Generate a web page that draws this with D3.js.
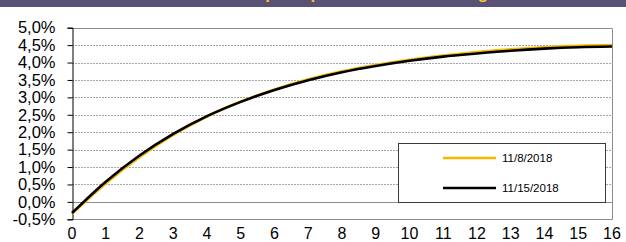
<!DOCTYPE html>
<html>
<head>
<meta charset="utf-8">
<script src="https://cdn.jsdelivr.net/npm/d3@7"></script>
<style>
  html, body { margin: 0; padding: 0; background: #fff; }
  svg { display: block; font-family: "Liberation Sans", Arial, sans-serif; }
</style>
</head>
<body>
<svg id="chart" width="626" height="242"></svg>
<script>
// Maturities (years) along the x axis.
const maturities = [0, 1, 2, 3, 4, 5, 6, 7, 8, 9, 10, 11, 12, 13, 14, 15, 16];
// Rates in percent.
const rates_2018_11_08 = [-0.34, 0.53, 1.28, 1.92, 2.45, 2.88, 3.23, 3.52, 3.75, 3.93, 4.08, 4.20, 4.30, 4.38, 4.44, 4.48, 4.50];
const rates_2018_11_15 = [-0.32, 0.58, 1.33, 1.95, 2.46, 2.87, 3.21, 3.49, 3.72, 3.90, 4.05, 4.17, 4.26, 4.34, 4.40, 4.44, 4.46];
const seriesNames = ['11/8/2018', '11/15/2018'];
const seriesColors = ['#f5b800', '#000000'];
const yTicks = [-0.5, 0, 0.5, 1, 1.5, 2, 2.5, 3, 3.5, 4, 4.5, 5];
const xTicks = [0, 1, 2, 3, 4, 5, 6, 7, 8, 9, 10, 11, 12, 13, 14, 15, 16];
const titleText = 'Zero-coupon spot rate curve - change';

const svg = d3.select('#chart');
const width = 626;

// Plot area bounds.
const plotLeft = 72, plotRight = 612, plotTop = 27.7, plotBottom = 219.3;

const x = d3.scaleLinear().domain([0, 16]).range([plotLeft, plotRight]);
const y = d3.scaleLinear().domain([-0.5, 5]).range([plotBottom, plotTop]);

// Title band across the top: the picture is cropped, so only the
// descenders of the title peek out of the band.
svg.append('rect')
    .attr('x', 0).attr('y', 0)
    .attr('width', width).attr('height', 7)
    .attr('fill', '#5a5276');
svg.append('text')
    .attr('x', 345).attr('y', -1)
    .attr('text-anchor', 'middle')
    .attr('fill', '#f7c52b')
    .style('font-size', '17px')
    .style('font-weight', 'bold')
    .text(titleText);

// Horizontal gridlines (dotted), with the zero line and top line solid.
svg.append('g')
    .selectAll('line')
    .data(yTicks.filter(d => d !== -0.5))
    .join('line')
    .attr('x1', plotLeft).attr('x2', plotRight)
    .attr('y1', d => Math.round(y(d)) + 0.5)
    .attr('y2', d => Math.round(y(d)) + 0.5)
    .attr('stroke', d => (d === 0 || d === 5) ? '#8c8c8c' : '#a6a6a6')
    .attr('stroke-dasharray', d => (d === 0 || d === 5) ? null : '2,1');

// Plot border on the right and bottom.
svg.append('path')
    .attr('d', `M${plotRight + 0.5},${Math.round(plotTop) + 0.5}V${Math.round(plotBottom) + 0.5}H${plotLeft}`)
    .attr('fill', 'none')
    .attr('stroke', '#8c8c8c');

// Left value axis with its labels.
const yAxis = d3.axisLeft(y)
    .tickValues(yTicks)
    .tickSize(5)
    .tickPadding(12)
    .tickFormat(d => d3.format('.1f')(d).replace('.', ',').replace('\u2212', '-') + '%');
const yg = svg.append('g')
    .attr('transform', `translate(${plotLeft + 0.5},0)`)
    .call(yAxis);
yg.select('.domain').attr('stroke', '#000');
yg.selectAll('.tick line').attr('stroke', '#000');
yg.selectAll('.tick text')
    .attr('fill', '#000')
    .style('font-size', '16.5px')
    .style('font-family', '"Liberation Sans", Arial, sans-serif');

// Bottom axis labels only.
svg.append('g')
    .selectAll('text')
    .data(xTicks)
    .join('text')
    .attr('x', d => x(d))
    .attr('y', 239)
    .attr('text-anchor', 'middle')
    .style('font-size', '16px')
    .text(d => d);

// The two curves: older date first so the newer one sits on top.
const line = d3.line()
    .x((d, i) => x(maturities[i]))
    .y(d => y(d))
    .curve(d3.curveMonotoneX);

[rates_2018_11_08, rates_2018_11_15].forEach((series, i) => {
    svg.append('path')
        .datum(series)
        .attr('d', line)
        .attr('fill', 'none')
        .attr('stroke', seriesColors[i])
        .attr('stroke-width', 2.6);
});

// Legend box in the lower right.
const legend = svg.append('g');
legend.append('rect')
    .attr('x', 398.5).attr('y', 143.5)
    .attr('width', 207).attr('height', 59)
    .attr('fill', '#fff')
    .attr('stroke', '#3a3a3a');

const legendRows = legend.selectAll('g')
    .data(seriesNames)
    .join('g')
    .attr('transform', (d, i) => `translate(0,${158 + i * 30})`);
legendRows.append('line')
    .attr('x1', 443).attr('x2', 496)
    .attr('stroke', (d, i) => seriesColors[i])
    .attr('stroke-width', 2.6);
legendRows.append('text')
    .attr('x', 502).attr('y', 4)
    .style('font-size', '11.5px')
    .text(d => d);
</script>
</body>
</html>
